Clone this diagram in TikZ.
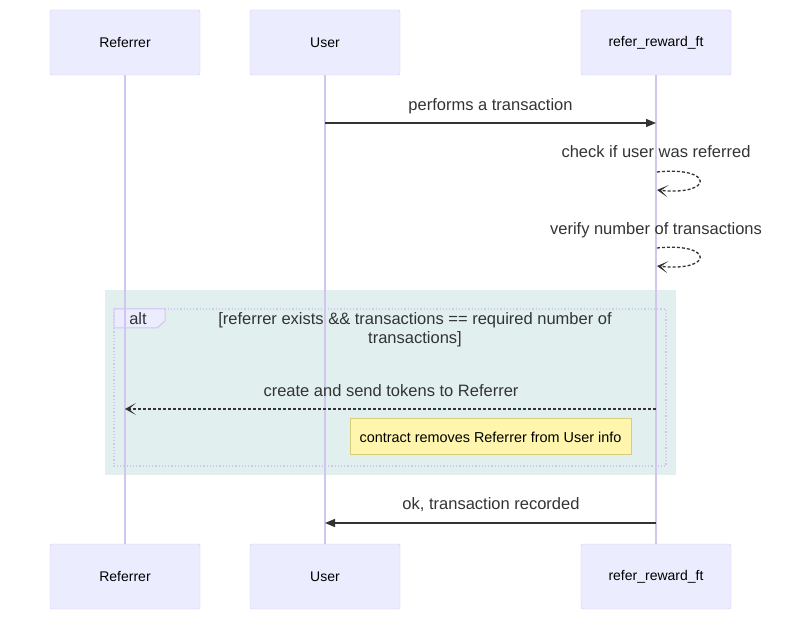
\documentclass[tikz,border=0pt]{standalone}
\usepackage{fontspec}
\setmainfont{Liberation Sans}
\usetikzlibrary{arrows.meta}
\definecolor{actorfill}{HTML}{ECECFF}
\definecolor{actorline}{HTML}{D2C6F0}
\definecolor{altfill}{HTML}{E1F0EF}
\definecolor{notefill}{HTML}{FFF5AD}
\definecolor{noteline}{HTML}{D9CC7A}
\definecolor{msgcolor}{HTML}{333333}

\begin{document}
\begin{tikzpicture}[
  x=1pt, y=-1pt,
  actor/.style={draw=actorline, fill=actorfill, rounded corners=2pt,
    minimum width=150pt, minimum height=65pt, font=\fontsize{14}{16}\selectfont},
  lifeline/.style={draw=actorline, line width=1.2pt},
  msg/.style={text=msgcolor, font=\fontsize{16.5}{19}\selectfont},
  solidmsg/.style={draw=msgcolor, line width=1.3pt, -{Triangle[length=10pt,width=8pt]}},
  dashmsg/.style={draw=msgcolor, line width=1.3pt, dash pattern=on 3pt off 2pt,
    -{Stealth[length=11pt,width=12pt,inset=7pt]}},
  ]
  \useasboundingbox (0,0) rectangle (812,620);

  % alt block
  \fill[altfill] (105,290) rectangle (676,475);
  \draw[actorline, line width=1.2pt, dotted] (114,309) rectangle (666,466);
  \draw[actorline, fill=actorfill, line width=1pt]
    (114,309) -- (165,309) -- (165,321) -- (157,328) -- (114,328) -- cycle;
  \node[msg] (alt) at (138,319) {alt};
  \node[msg, align=center] (cond) at (415,330)
    {[referrer exists \&\& transactions == required number of\\transactions]};

  % actors
  \node[actor] (referrer) at (125,42.5) {Referrer};
  \node[actor] (user) at (325,42.5) {User};
  \node[actor] (ft) at (656,42.5) {refer\_reward\_ft};
  \node[actor] (referrerB) at (125,576.5) {Referrer};
  \node[actor] (userB) at (325,576.5) {User};
  \node[actor] (ftB) at (656,576.5) {refer\_reward\_ft};

  \draw[lifeline] (referrer) -- (referrerB);
  \draw[lifeline] (user) -- (userB);
  \draw[lifeline] (ft) -- (ftB);

  % messages
  \coordinate (u1) at (325,123);
  \coordinate (f1) at (656,123);
  \draw[solidmsg] (u1) -- (f1) node[msg, midway, above=5pt] {performs a transaction};

  \node[msg] (check) at (656,152) {check if user was referred};
  \coordinate (c1) at (657,172);
  \coordinate (c2) at (657,190);
  \draw[dashmsg] (c1) .. controls (714,166) and (714,196) .. (c2);

  \node[msg] (verify) at (656,230) {verify number of transactions};
  \coordinate (v1) at (657,248);
  \coordinate (v2) at (657,266);
  \draw[dashmsg] (v1) .. controls (714,242) and (714,272) .. (v2);

  \coordinate (f2) at (656,409);
  \coordinate (r2) at (125,409);
  \draw[dashmsg] (f2) -- (r2);
  \node[msg] (tokens) at (391,391) {create and send tokens to Referrer};

  \node[draw=noteline, fill=notefill, line width=1pt, minimum width=281pt,
    minimum height=36pt, font=\fontsize{14.4}{16}\selectfont] (note) at (490.5,437)
    {contract removes Referrer from User info};

  \coordinate (f3) at (656,523);
  \coordinate (u3) at (325,523);
  \draw[solidmsg] (f3) -- (u3);
  \node[msg] (ok) at (491,505) {ok, transaction recorded};

\end{tikzpicture}
\end{document}
